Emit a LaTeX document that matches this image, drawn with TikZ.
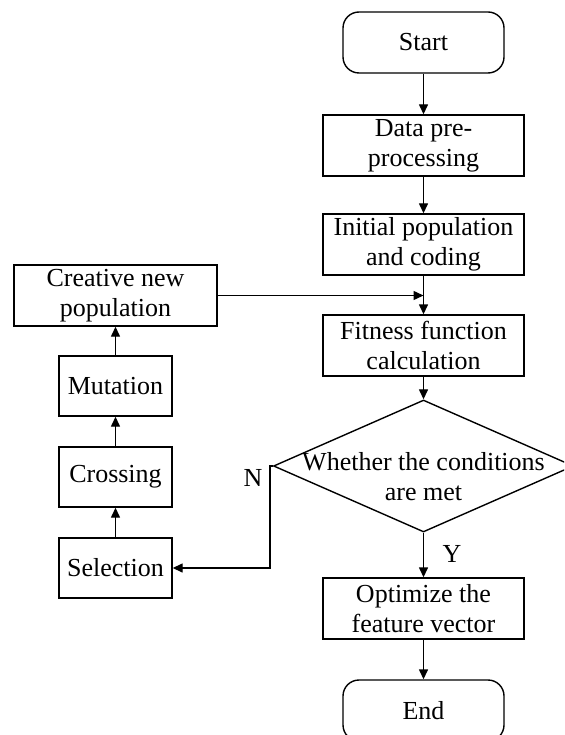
\documentclass[tikz,border=0pt]{standalone}
\usepackage{fontspec}
\setmainfont{Liberation Serif}
\usetikzlibrary{shapes.geometric,arrows.meta}
\tikzset{
  base/.style={draw, line width=1.4pt, inner sep=0pt, align=center, font=\fontsize{26}{30}\selectfont},
  procbox/.style={base, rectangle, minimum width=201pt, minimum height=61pt},
  smallbox/.style={base, rectangle, minimum width=113pt, minimum height=60pt},
  term/.style={base, rectangle, rounded corners=16pt, minimum width=161pt, minimum height=61pt},
  decide/.style={base, diamond, minimum width=300pt, minimum height=132pt},
  conn/.style={line width=1.4pt, -{Triangle[length=10pt,width=9pt]}},
  lbl/.style={font=\fontsize{26}{30}\selectfont, inner sep=0pt}
}
\begin{document}
\begin{tikzpicture}[x=1pt,y=-1pt]
\clip (0,0) rectangle (564,735);
\fill[white] (0,0) rectangle (564,735);
% main column
\node[term] (start) at (423.5,42.5) {Start};
\node[procbox] (data) at (423.5,145.5) {Data pre-\\processing};
\node[procbox] (init) at (423.5,244.5) {Initial population\\and coding};
\node[procbox] (fit) at (423.5,345.5) {Fitness function\\calculation};
\node[decide, label={[lbl,align=center,yshift=-11pt]center:Whether the conditions\\are met}] (cond) at (423.5,466) {};
\node[procbox] (opt) at (423.5,608.5) {Optimize the\\feature vector};
\node[term] (end) at (423.5,710.5) {End};
% left column
\node[procbox, minimum width=203pt] (create) at (115.5,295.5) {Creative new\\population};
\node[smallbox] (mut) at (115.5,386) {Mutation};
\node[smallbox] (cross) at (115.5,477) {Crossing};
\node[smallbox] (sel) at (115.5,568) {Selection};
% coordinates
\coordinate (join) at (423.5,295.5);
\coordinate (nbend) at (270,466);
\coordinate (ncorner) at (270,568);
% connectors
\draw[conn] (start) -- (data);
\draw[conn] (data) -- (init);
\draw[conn] (init) -- (fit);
\draw[conn] (fit) -- (cond);
\draw[conn] (cond) -- (opt);
\draw[conn] (opt) -- (end);
\draw[conn] (create.east) -- (join);
\draw[conn] (sel) -- (cross);
\draw[conn] (cross) -- (mut);
\draw[conn] (mut) -- (create);
\draw[conn] (cond.west) -- (nbend) -- (ncorner) -- (sel.east);
% labels
\node[lbl] (nlab) at (253,478) {N};
\node[lbl] (ylab) at (452,554) {Y};
\end{tikzpicture}
\end{document}
